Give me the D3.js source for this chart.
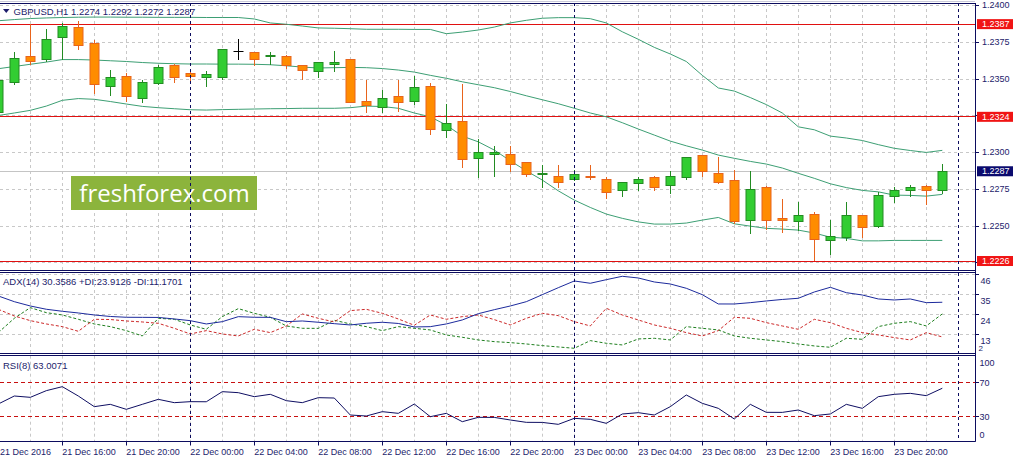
<!DOCTYPE html>
<html><head><meta charset="utf-8">
<script src="https://cdn.jsdelivr.net/npm/d3@7/dist/d3.min.js"></script>
<style>html,body{margin:0;padding:0;background:#fff;overflow:hidden}svg{display:block}</style>
</head><body><svg id="c" width="1017" height="463"></svg>
<script>
// ---------------- DATA ----------------
const symbolTitle = "GBPUSD,H1 1.2274 1.2292 1.2272 1.2287";
const adxTitle = "ADX(14) 30.3586 +DI:23.9126 -DI:11.1701";
const rsiTitle = "RSI(8) 63.0071";
const firstBar = "2016-12-21T12:00Z";
const lastBar = "2016-12-23T23:00Z";

const open = [1.2327,1.2348,1.2365,1.2363,1.2378,1.2385,1.2374,1.2345,1.2352,1.2337,
1.2347,1.2359,1.2354,1.2351,1.2351,1.2369,1.2368,1.2365,1.2365,1.2359,
1.2355,1.2360,1.2363,1.2335,1.2331,1.2338,1.2335,1.2345,1.2315,1.2321,
1.2296,1.2299,1.2299,1.2293,1.2285,1.2284,1.2282,1.2284,1.2282,1.2274,
1.2279,1.2283,1.2278,1.2283,1.2298,1.2286,1.2281,1.2254,1.2276,1.2255,
1.2253,1.2258,1.2240,1.2242,1.2257,1.2250,1.2270,1.2274,1.2277,1.2274];
const high = [1.2351,1.2368,1.2387,1.2384,1.2388,1.2389,1.2376,1.2356,1.2354,1.2349,
1.2359,1.2360,1.2356,1.2355,1.2370,1.2377,1.2368,1.2368,1.2366,1.2359,
1.2361,1.2369,1.2363,1.2349,1.2342,1.2349,1.2352,1.2347,1.2333,1.2346,
1.2309,1.2304,1.2304,1.2293,1.2291,1.2291,1.2288,1.2291,1.2283,1.2280,
1.2283,1.2284,1.2287,1.2297,1.2298,1.2297,1.2288,1.2287,1.2277,1.2268,
1.2266,1.2259,1.2254,1.2266,1.2257,1.2273,1.2276,1.2278,1.2278,1.2292];
const low = [1.2326,1.2346,1.2360,1.2362,1.2363,1.2370,1.2340,1.2339,1.2335,1.2334,
1.2346,1.2348,1.2348,1.2345,1.2350,1.2363,1.2359,1.2360,1.2357,1.2350,
1.2351,1.2355,1.2334,1.2327,1.2327,1.2328,1.2333,1.2312,1.2310,1.2290,
1.2283,1.2284,1.2287,1.2284,1.2276,1.2276,1.2281,1.2282,1.2269,1.2270,
1.2274,1.2274,1.2272,1.2282,1.2284,1.2279,1.2252,1.2245,1.2248,1.2246,
1.2247,1.2227,1.2231,1.2240,1.2242,1.2249,1.2266,1.2270,1.2265,1.2272];
const close = [1.2349,1.2364,1.2362,1.2377,1.2386,1.2373,1.2346,1.2351,1.2338,1.2348,
1.2358,1.2351,1.2352,1.2353,1.2370,1.2369,1.2363,1.2366,1.2359,1.2356,
1.2361,1.2361,1.2334,1.2332,1.2337,1.2334,1.2344,1.2316,1.2320,1.2295,
1.2300,1.2300,1.2292,1.2285,1.2286,1.2280,1.2285,1.2283,1.2273,1.2280,
1.2282,1.2276,1.2284,1.2297,1.2287,1.2280,1.2253,1.2275,1.2254,1.2254,
1.2257,1.2241,1.2243,1.2257,1.2249,1.2271,1.2274,1.2276,1.2274,1.2287];

const bbUpper = [1.23893,1.23901,1.23908,1.23912,1.23915,1.23917,1.23918,1.23918,1.23917,1.23917,
1.23916,1.23916,1.23916,1.23915,1.23915,1.23915,1.23905,1.23878,1.23869,1.23857,
1.23844,1.23842,1.23839,1.23835,1.23835,1.23835,1.23834,1.23834,1.23805,1.23816,
1.23830,1.23850,1.23878,1.23896,1.23910,1.23914,1.23914,1.23907,1.23878,1.23818,
1.23767,1.23712,1.23667,1.23616,1.23522,1.23436,1.23415,1.23371,1.23323,1.23266,
1.23172,1.23152,1.23109,1.23096,1.23079,1.23051,1.23026,1.23011,1.22998,1.23012];
const bbMiddle = [1.23567,1.23582,1.23597,1.23612,1.23629,1.23629,1.23626,1.23621,1.23616,1.23609,
1.23604,1.23601,1.23599,1.23599,1.23598,1.23598,1.23597,1.23594,1.23587,1.23578,
1.23572,1.23574,1.23576,1.23574,1.23568,1.23558,1.23544,1.23522,1.23502,1.23478,
1.23458,1.23438,1.23412,1.23383,1.23356,1.23329,1.23298,1.23266,1.23240,1.23200,
1.23157,1.23116,1.23075,1.23043,1.23014,1.22980,1.22958,1.22937,1.22919,1.22892,
1.22856,1.22822,1.22785,1.22759,1.22740,1.22730,1.22708,1.22706,1.22701,1.22713];
const bbLower = [1.23249,1.23266,1.23284,1.23313,1.23352,1.23364,1.23359,1.23344,1.23327,1.23311,
1.23302,1.23295,1.23288,1.23286,1.23289,1.23291,1.23293,1.23295,1.23296,1.23298,
1.23298,1.23298,1.23302,1.23313,1.23310,1.23298,1.23266,1.23240,1.23184,1.23109,
1.23070,1.23014,1.22941,1.22873,1.22810,1.22737,1.22674,1.22624,1.22579,1.22550,
1.22526,1.22511,1.22511,1.22518,1.22538,1.22556,1.22513,1.22497,1.22482,1.22477,
1.22470,1.22450,1.22422,1.22414,1.22397,1.22397,1.22400,1.22400,1.22400,1.22400];

const adx = [33.83,30.68,28.30,26.48,25.37,24.43,23.32,22.49,22.05,22.00,
21.95,21.11,20.17,18.35,19.62,22.38,22.05,22.00,19.62,20.00,
19.29,18.51,17.79,18.73,19.29,18.62,16.69,16.85,18.35,20.56,
24.04,26.25,28.30,30.68,34.55,38.42,42.13,40.86,42.85,44.73,
43.79,41.58,40.47,38.09,34.55,29.41,29.40,30.13,31.07,31.90,
32.56,36.04,38.64,35.66,34.38,32.17,31.62,32.17,30.13,30.3586];
const plusDI = [13.55,21.48,27.38,24.61,23.32,20.93,18.35,16.87,14.66,11.71,
21.48,20.93,17.79,15.40,22.40,26.83,24.24,22.03,17.24,15.95,
15.90,20.40,18.35,16.87,14.66,16.87,15.95,15.03,12.26,10.97,
9.50,8.57,8.02,7.28,6.36,5.62,4.89,9.13,7.65,6.73,
10.05,10.42,9.50,16.87,15.95,15.03,11.71,10.42,9.50,8.57,
7.28,6.18,5.44,10.42,9.86,16.87,18.71,19.64,17.24,23.9126];
const minusDI = [26.46,22.77,20.19,18.35,16.87,14.29,20.93,20.80,20.00,19.45,
18.71,15.95,12.81,14.66,12.81,11.71,15.40,13.55,17.24,23.88,
21.48,19.45,25.72,26.46,24.24,21.11,17.61,23.32,20.93,22.40,
23.32,20.74,17.79,21.48,24.24,22.95,19.64,17.24,27.01,23.32,
20.56,17.79,15.95,13.55,11.71,14.66,22.03,21.48,19.08,17.24,
15.40,20.93,19.08,15.95,13.55,12.26,10.79,9.50,13.55,11.1701];
const rsi = [44.47,53.88,52.31,60.16,64.86,53.88,41.33,44.08,38.20,44.08,
49.96,46.04,47.22,47.10,58.98,57.80,53.10,55.85,48.39,46.04,
51.92,51.50,31.53,30.35,35.45,33.49,44.47,29.56,33.49,23.68,
28.78,28.70,25.65,22.90,22.80,20.55,27.61,26.43,21.73,32.71,
34.27,31.53,41.33,55.06,45.25,39.37,26.82,44.08,34.67,34.60,
37.41,30.74,32.71,44.08,39.37,53.10,55.85,57.02,54.27,63.0071];

const priceTicks = [1.2400,1.2375,1.2350,1.2325,1.2300,1.2275,1.2250,1.2225];
const priceTickLabels = ["1.2400","1.2375","1.2350","1.2325","1.2300","1.2275","1.2250","1.2225"];
const redLevels = [1.2387,1.2324,1.2226];
const redLevelLabels = ["1.2387","1.2324","1.2226"];
const bidPrice = 1.2287;
const bidLabel = "1.2287";
const adxTicks = [46,35,24,13,2];
const adxTickLabels = ["46","35","24","13","2"];
const rsiScaleTicks = [100,0];
const rsiScaleLabels = ["100","0"];
const rsiLevels = [70,30];
const rsiLevelLabels = ["70","30"];
const xTickTimes = ["2016-12-21T12:00Z","2016-12-21T16:00Z","2016-12-21T20:00Z","2016-12-22T00:00Z","2016-12-22T04:00Z",
"2016-12-22T08:00Z","2016-12-22T12:00Z","2016-12-22T16:00Z","2016-12-22T20:00Z","2016-12-23T00:00Z",
"2016-12-23T04:00Z","2016-12-23T08:00Z","2016-12-23T12:00Z","2016-12-23T16:00Z","2016-12-23T20:00Z"];
const xTickLabels = ["21 Dec 2016","21 Dec 16:00","21 Dec 20:00","22 Dec 00:00","22 Dec 04:00",
"22 Dec 08:00","22 Dec 12:00","22 Dec 16:00","22 Dec 20:00","23 Dec 00:00",
"23 Dec 04:00","23 Dec 08:00","23 Dec 12:00","23 Dec 16:00","23 Dec 20:00"];
const daySeparators = ["2016-12-22T00:00Z","2016-12-23T00:00Z","2016-12-24T00:00Z"];
const watermark = "freshforex.com";

// ---------------- SETUP ----------------
const svg = d3.select("#c");
const AX = 975;
const P = {main:{top:3,bottom:270}, adx:{top:272,bottom:353.3}, rsi:{top:355.7,bottom:441.7}};
const parse = d3.utcParse("%Y-%m-%dT%H:%MZ");
const t0 = parse(firstBar), t1 = parse(lastBar);
const barTimes = d3.utcHour.range(t0, d3.utcHour.offset(t1, 1));
const x = d3.scaleUtc().domain([t0, t1]).range([-1.7, 942.3]);
const yP = d3.scaleLinear().domain([1.2400, 1.2250]).range([5, 225.7]);
const yA = d3.scaleLinear().domain([2, 47.1]).range([353.5, 272]);
const yR = d3.scaleLinear().domain([0, 100]).range([441.8, 356.8]);
const snap = v => Math.round(v) + 0.5;
const NAVY = "#0c0c5e", TXT = "#1c1c6b", GRID = "#c8c8c8";
const FONT = "'Liberation Sans', Arial, sans-serif";

svg.append("rect").attr("width",1017).attr("height",463).attr("fill","#fff");
const defs = svg.append("defs");
Object.entries(P).forEach(([k,p]) => {
  defs.append("clipPath").attr("id","clip-"+k).append("rect")
    .attr("x",0).attr("y",p.top).attr("width",AX).attr("height",p.bottom-p.top);
});
const gMain = svg.append("g").attr("clip-path","url(#clip-main)");
const gAdx = svg.append("g").attr("clip-path","url(#clip-adx)");
const gRsi = svg.append("g").attr("clip-path","url(#clip-rsi)");

// vertical grid every 2 hours
const gridTimes = d3.utcHour.every(2).range(d3.utcHour.offset(t0,2), parse("2016-12-24T00:00Z"));
[gMain,gAdx,gRsi].forEach((g,k) => {
  const p = Object.values(P)[k];
  g.append("g").selectAll("line").data(gridTimes).join("line")
    .attr("x1",d=>snap(x(d))).attr("x2",d=>snap(x(d)))
    .attr("y1",p.top).attr("y2",p.bottom)
    .attr("stroke",GRID).attr("stroke-dasharray","3,3");
});
// horizontal grids
gMain.append("g").selectAll("line").data(priceTicks).join("line")
  .attr("x1",0).attr("x2",AX).attr("y1",d=>snap(yP(d))).attr("y2",d=>snap(yP(d)))
  .attr("stroke",GRID).attr("stroke-dasharray","3,3");
gAdx.append("g").selectAll("line").data(adxTicks).join("line")
  .attr("x1",0).attr("x2",AX).attr("y1",d=>snap(yA(d))).attr("y2",d=>snap(yA(d)))
  .attr("stroke",GRID).attr("stroke-dasharray","3,3");

// bid line
gMain.append("line").attr("x1",0).attr("x2",AX)
  .attr("y1",snap(yP(bidPrice))).attr("y2",snap(yP(bidPrice))).attr("stroke","#c4c4c4");

// day separators
svg.append("g").selectAll("line").data(daySeparators).join("line")
  .attr("x1",d=>snap(x(parse(d)))).attr("x2",d=>snap(x(parse(d))))
  .attr("y1",P.main.top).attr("y2",P.rsi.bottom)
  .attr("stroke",NAVY).attr("stroke-dasharray","3,3");

// red levels (below candles)
gMain.append("g").selectAll("line").data(redLevels).join("line")
  .attr("x1",0).attr("x2",AX).attr("y1",d=>Math.floor(yP(d))+0.5).attr("y2",d=>Math.floor(yP(d))+0.5)
  .attr("stroke","#e01010").attr("stroke-width",1);

// watermark
gMain.append("rect").attr("x",71).attr("y",176).attr("width",186).attr("height",34).attr("fill","#8cb43c");
gMain.append("text").attr("x",164.5).attr("y",201.5).attr("text-anchor","middle")
  .attr("font-family","'Open Sans', sans-serif").attr("font-size",24).attr("fill","#fff").text(watermark);

// Bollinger bands
const bandLine = arr => d3.line().x((d,i)=>x(barTimes[i])).y(d=>yP(d))(arr);
[bbUpper,bbMiddle,bbLower].forEach(arr => {
  gMain.append("path").attr("d",bandLine(arr)).attr("fill","none").attr("stroke","#3d9f74").attr("stroke-width",1);
});

// candles
const bars = barTimes.map((t,i)=>({t,o:open[i],h:high[i],l:low[i],c:close[i]}));
const cg = gMain.append("g").selectAll("g").data(bars).join("g");
const col = d => d.c > d.o ? {f:"#32cd32",s:"#228b22"} : d.c < d.o ? {f:"#ff8c00",s:"#e8641c"} : {f:"#000",s:"#000"};
cg.append("line")
  .attr("x1",d=>snap(x(d.t))).attr("x2",d=>snap(x(d.t)))
  .attr("y1",d=>Math.round(yP(d.h))).attr("y2",d=>Math.round(yP(d.l))+1)
  .attr("stroke",d=>col(d).s);
cg.filter(d=>d.c!==d.o).append("rect")
  .attr("x",d=>snap(x(d.t))-4.5)
  .attr("y",d=>Math.round(yP(Math.max(d.o,d.c)))+0.5)
  .attr("width",9)
  .attr("height",d=>Math.max(1,Math.round(yP(Math.min(d.o,d.c)))-Math.round(yP(Math.max(d.o,d.c)))))
  .attr("fill",d=>col(d).f).attr("stroke",d=>col(d).s);
cg.filter(d=>d.c===d.o).append("line")
  .attr("x1",d=>snap(x(d.t))-5).attr("x2",d=>snap(x(d.t))+5)
  .attr("y1",d=>snap(yP(d.o))).attr("y2",d=>snap(yP(d.o))).attr("stroke","#000");

// ADX panel
const lA = d3.line().x((d,i)=>x(barTimes[i])).y(d=>yA(d));
gAdx.append("path").attr("d",lA(plusDI)).attr("fill","none").attr("stroke","#1f7f1f").attr("stroke-dasharray","3,2");
gAdx.append("path").attr("d",lA(minusDI)).attr("fill","none").attr("stroke","#cc2a2a").attr("stroke-dasharray","3,2");
gAdx.append("path").attr("d",lA(adx)).attr("fill","none").attr("stroke","#1c2a9c");

// RSI panel
gRsi.append("g").selectAll("line").data(rsiLevels).join("line")
  .attr("x1",0).attr("x2",AX).attr("y1",d=>snap(yR(d))).attr("y2",d=>snap(yR(d)))
  .attr("stroke","#c81010").attr("stroke-dasharray","4,3");
const lR = d3.line().x((d,i)=>x(barTimes[i])).y(d=>yR(d));
gRsi.append("path").attr("d",lR(rsi)).attr("fill","none").attr("stroke","#0e0e62");

// frames
const fr = svg.append("g").attr("stroke",NAVY).attr("fill","none");
[3.5,270.5,272.5,353.5,355.5,441.5].forEach(yy =>
  fr.append("line").attr("x1",0).attr("x2",AX+0.5).attr("y1",yy).attr("y2",yy));
fr.append("line").attr("x1",AX+0.5).attr("x2",AX+0.5).attr("y1",3).attr("y2",441.7);
fr.append("line").attr("x1",0).attr("x2",AX).attr("y1",1.5).attr("y2",1.5).attr("stroke","#c8c8d8");

// axes text
const axT = svg.append("g").attr("font-family",FONT).attr("font-size",9).attr("fill",TXT);
priceTicks.forEach((p,i) => {
  const yy = yP(p);
  fr.append("line").attr("x1",AX).attr("x2",AX+4).attr("y1",snap(yy)).attr("y2",snap(yy));
  const hidden = redLevels.concat([bidPrice]).some(r => Math.abs(yP(r)-yy) < 9);
  if (!hidden) axT.append("text").attr("x",982).attr("y",yy+3.2).text(priceTickLabels[i]);
});
redLevels.forEach((p,i) => {
  const yy = yP(p);
  svg.append("rect").attr("x",977).attr("y",yy-5).attr("width",36).attr("height",10).attr("fill","#f01414");
  svg.append("text").attr("x",982).attr("y",yy+3.2).attr("font-family",FONT).attr("font-size",9)
    .attr("fill","#fff").text(redLevelLabels[i]);
});
{
  const yy = yP(bidPrice);
  svg.append("rect").attr("x",977).attr("y",yy-5).attr("width",36).attr("height",10).attr("fill","#0a0a6e");
  svg.append("text").attr("x",982).attr("y",yy+3.2).attr("font-family",FONT).attr("font-size",9)
    .attr("fill","#fff").text(bidLabel);
}
adxTicks.forEach((v,i) => {
  const yy = yA(v);
  if (yy < P.adx.bottom) fr.append("line").attr("x1",AX).attr("x2",AX+4).attr("y1",snap(yy)).attr("y2",snap(yy));
  const isLast = i === adxTicks.length-1;
  axT.append("text").attr("x",isLast ? 978.5 : 980.5)
    .attr("y",Math.min(yy+10, P.adx.bottom-2.5))
    .attr("font-size", isLast ? 8 : 9).text(adxTickLabels[i]);
});
rsiScaleTicks.forEach((v,i) => {
  const yy = yR(v);
  axT.append("text").attr("x",979.5).attr("y",Math.min(yy+9, P.rsi.bottom-3.5)).text(rsiScaleLabels[i]);
});
rsiLevels.forEach((v,i) => {
  const yy = yR(v);
  fr.append("line").attr("x1",AX).attr("x2",AX+4).attr("y1",snap(yy)).attr("y2",snap(yy));
  axT.append("text").attr("x",979.5).attr("y",yy+3.2).text(rsiLevelLabels[i]);
});
xTickTimes.forEach((s,i) => {
  const xx = x(parse(s));
  if (i > 0) fr.append("line").attr("x1",snap(xx)).attr("x2",snap(xx)).attr("y1",441.7).attr("y2",445.5);
  axT.append("text").attr("x",Math.max(xx,0)).attr("y",455).text(xTickLabels[i]);
});

// headers
svg.append("path").attr("d","M3,9 L9.5,9 L6.25,13 Z").attr("fill",TXT);
const hT = svg.append("g").attr("font-family",FONT).attr("fill",TXT).attr("font-size",9.5);
hT.append("text").attr("x",13.5).attr("y",15).text(symbolTitle);
hT.append("text").attr("x",3).attr("y",285).text(adxTitle);
hT.append("text").attr("x",3).attr("y",368.5).text(rsiTitle);
</script></body></html>
